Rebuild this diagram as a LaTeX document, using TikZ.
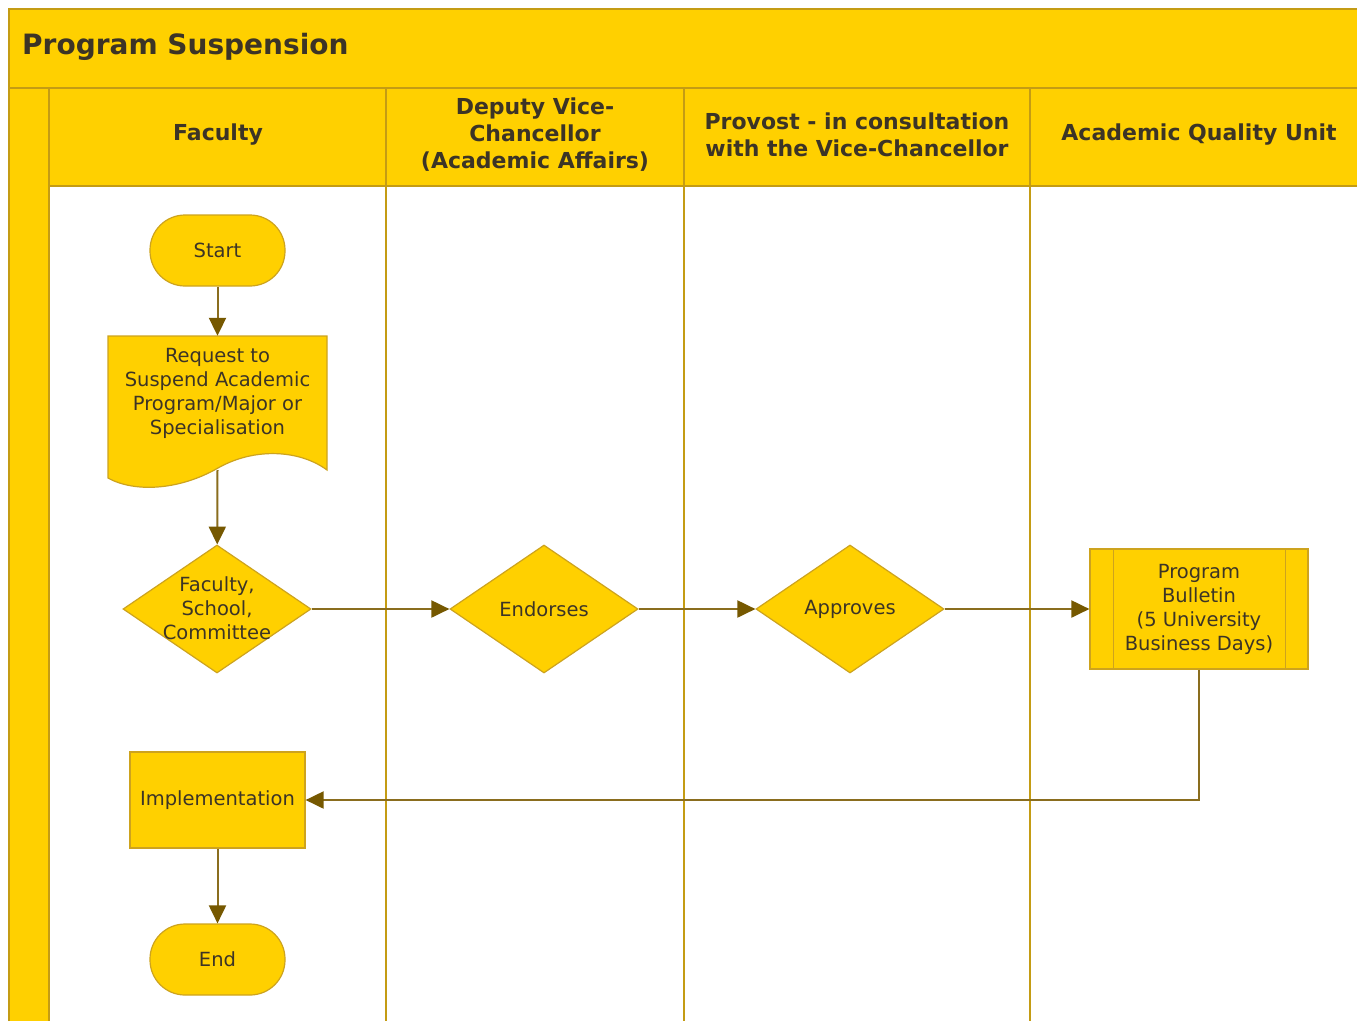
\documentclass[tikz,border=0pt]{standalone}
\usepackage{fontspec}
\setmainfont{DejaVu Sans}
\usetikzlibrary{shapes.geometric,arrows.meta}
\definecolor{laneyellow}{HTML}{FFD000}
\definecolor{laneborder}{HTML}{C49C14}
\definecolor{shapeborder}{HTML}{CDA31E}
\definecolor{flowline}{HTML}{8A6D1E}
\definecolor{flowtip}{HTML}{765800}
\definecolor{inktext}{HTML}{3C3426}

\begin{document}
\begin{tikzpicture}[x=1pt,y=-1pt,
  lane/.style={draw=laneborder, line width=1.8pt},
  box/.style={draw=shapeborder, line width=1.2pt, fill=laneyellow, text=inktext,
    font=\fontsize{19.5}{24}\selectfont, align=center, inner sep=0pt},
  term/.style={box, rounded corners=35pt, minimum width=135pt, minimum height=71pt},
  decision/.style={box, diamond, minimum width=188pt, minimum height=128pt},
  proc/.style={box, rectangle, minimum width=175pt, minimum height=96pt},
  predef/.style={box, rectangle, minimum width=218pt, minimum height=120pt},
  label/.style={text=inktext, font=\fontsize{19.5}{24}\selectfont, align=center, inner sep=0pt},
  header/.style={text=inktext, font=\bfseries\fontsize{22}{27}\selectfont, align=center},
  flow/.style={draw=flowline, line width=2pt,
    -{Triangle[length=18pt,width=17pt,color=flowtip]}},
]
\useasboundingbox (0,0) rectangle (1357,1021);
\fill[white] (0,0) rectangle (1357,1021);

% pool frame: title band, left strip, lane header row
\fill[laneyellow] (9,9) rectangle (1357,88);
\fill[laneyellow] (9,88) rectangle (49,1021);
\fill[laneyellow] (49,88) rectangle (1357,186);
\draw[lane] (9,1021) -- (9,9) -- (1357,9);
\draw[lane] (9,88) -- (1357,88);
\draw[lane] (49,186) -- (1357,186);
\foreach \x in {49,386,684,1030} \draw[lane] (\x,88) -- (\x,1021);

\node[anchor=west, inner sep=0pt, text=inktext, font=\bfseries\fontsize{28}{32}\selectfont] (title) at (22,47) {Program Suspension};

% lane headers
\node[header] (hfac) at (218,135) {Faculty};
\node[header] (hdvc) at (535,135) {Deputy Vice-\\Chancellor\\(Academic Affairs)};
\node[header] (hpro) at (857,135) {Provost - in consultation\\with the Vice-Chancellor};
\node[header] (haqu) at (1199,135) {Academic Quality Unit};

% flow shapes
\node[term] (start) at (217.5,250.5) {Start};

\filldraw[draw=shapeborder, line width=1.2pt, fill=laneyellow]
  (108,336) -- (327,336) -- (327,470)
  .. controls (300,450) and (255,447) .. (218,468)
  .. controls (180,490) and (135,493) .. (108,478) -- cycle;
\node[label, minimum width=219pt, minimum height=114pt] (req) at (217.5,393)
  {Request to\\Suspend Academic\\Program/Major or\\Specialisation};
\coordinate (reqb) at (217.5,470);

\node[decision] (d1) at (217,609) {};
\node[label] (d1t) at (217,608) {Faculty,\\School,\\Committee};
\node[decision] (d2) at (544,609) {};
\node[label] (d2t) at (544,609) {Endorses};
\node[decision] (d3) at (850,609) {};
\node[label] (d3t) at (850,609) {Approves};

\node[predef] (pp) at (1199,609) {Program\\Bulletin\\(5 University\\Business Days)};
\draw[draw=shapeborder, line width=1.2pt]
  ([xshift=24pt]pp.north west) -- ([xshift=24pt]pp.south west)
  ([xshift=-23pt]pp.north east) -- ([xshift=-23pt]pp.south east);

\node[proc] (impl) at (217.5,800) {Implementation};
\node[term] (end) at (217.5,959.5) {End};

% connectors
\draw[flow] (start) -- (req.north);
\draw[flow] (reqb) -- (d1);
\draw[flow] (d1) -- (d2);
\draw[flow] (d2) -- (d3);
\draw[flow] (d3) -- (pp);
\draw[flow] (pp) |- (impl);
\draw[flow] (impl) -- (end);
\end{tikzpicture}
\end{document}
